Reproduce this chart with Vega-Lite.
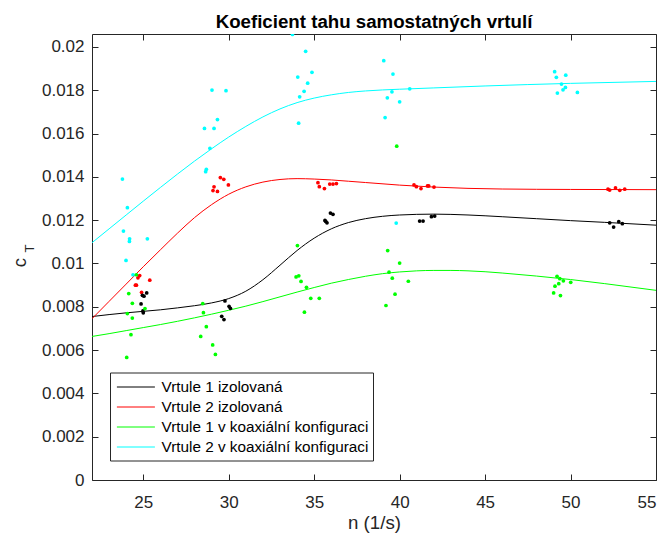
{
  "$schema": "https://vega.github.io/schema/vega-lite/v6.json",
  "width": 564,
  "height": 446,
  "autosize": {"type": "none"},
  "padding": {"left": 92, "top": 34, "right": 10, "bottom": 56},
  "background": "white",
  "config": {
    "view": {"stroke": null},
    "font": "Liberation Sans",
    "axis": {
      "domainColor": "#262626",
      "tickColor": "#262626",
      "labelColor": "#262626",
      "titleColor": "#262626",
      "labelFont": "Liberation Sans",
      "titleFont": "Liberation Sans",
      "labelFontSize": 17,
      "titleFontSize": 18.7,
      "titleFontWeight": "normal",
      "grid": false,
      "tickSize": -6,
      "domainWidth": 1,
      "tickWidth": 1
    }
  },
  "title": {
    "text": "Koeficient tahu samostatných vrtulí",
    "font": "Liberation Sans",
    "fontSize": 18.7,
    "fontWeight": "bold",
    "color": "black",
    "anchor": "middle",
    "offset": 2
  },
  "datasets": {
    "fits": [
      {"serie": "Vrtule 1 izolovaná", "n": 22, "cT": 0.00755},
      {"serie": "Vrtule 1 izolovaná", "n": 23, "cT": 0.00764},
      {"serie": "Vrtule 1 izolovaná", "n": 24, "cT": 0.00772},
      {"serie": "Vrtule 1 izolovaná", "n": 25, "cT": 0.00779},
      {"serie": "Vrtule 1 izolovaná", "n": 26, "cT": 0.00786},
      {"serie": "Vrtule 1 izolovaná", "n": 27, "cT": 0.00795},
      {"serie": "Vrtule 1 izolovaná", "n": 28, "cT": 0.00805},
      {"serie": "Vrtule 1 izolovaná", "n": 29, "cT": 0.00818},
      {"serie": "Vrtule 1 izolovaná", "n": 30, "cT": 0.00838},
      {"serie": "Vrtule 1 izolovaná", "n": 31, "cT": 0.00872},
      {"serie": "Vrtule 1 izolovaná", "n": 32, "cT": 0.00925},
      {"serie": "Vrtule 1 izolovaná", "n": 33, "cT": 0.00992},
      {"serie": "Vrtule 1 izolovaná", "n": 34, "cT": 0.0106},
      {"serie": "Vrtule 1 izolovaná", "n": 35, "cT": 0.01117},
      {"serie": "Vrtule 1 izolovaná", "n": 36, "cT": 0.0116},
      {"serie": "Vrtule 1 izolovaná", "n": 37, "cT": 0.01189},
      {"serie": "Vrtule 1 izolovaná", "n": 38, "cT": 0.01207},
      {"serie": "Vrtule 1 izolovaná", "n": 39, "cT": 0.01218},
      {"serie": "Vrtule 1 izolovaná", "n": 40, "cT": 0.01224},
      {"serie": "Vrtule 1 izolovaná", "n": 42, "cT": 0.01228},
      {"serie": "Vrtule 1 izolovaná", "n": 44, "cT": 0.01224},
      {"serie": "Vrtule 1 izolovaná", "n": 46, "cT": 0.01216},
      {"serie": "Vrtule 1 izolovaná", "n": 48, "cT": 0.01207},
      {"serie": "Vrtule 1 izolovaná", "n": 50, "cT": 0.01198},
      {"serie": "Vrtule 1 izolovaná", "n": 52, "cT": 0.0119},
      {"serie": "Vrtule 1 izolovaná", "n": 55, "cT": 0.01177},

      {"serie": "Vrtule 2 izolovaná", "n": 22, "cT": 0.00745},
      {"serie": "Vrtule 2 izolovaná", "n": 23, "cT": 0.00825},
      {"serie": "Vrtule 2 izolovaná", "n": 24, "cT": 0.00905},
      {"serie": "Vrtule 2 izolovaná", "n": 25, "cT": 0.00985},
      {"serie": "Vrtule 2 izolovaná", "n": 26, "cT": 0.01063},
      {"serie": "Vrtule 2 izolovaná", "n": 27, "cT": 0.0114},
      {"serie": "Vrtule 2 izolovaná", "n": 28, "cT": 0.01212},
      {"serie": "Vrtule 2 izolovaná", "n": 29, "cT": 0.01272},
      {"serie": "Vrtule 2 izolovaná", "n": 30, "cT": 0.0132},
      {"serie": "Vrtule 2 izolovaná", "n": 31, "cT": 0.01354},
      {"serie": "Vrtule 2 izolovaná", "n": 32, "cT": 0.01376},
      {"serie": "Vrtule 2 izolovaná", "n": 33, "cT": 0.01388},
      {"serie": "Vrtule 2 izolovaná", "n": 34, "cT": 0.01392},
      {"serie": "Vrtule 2 izolovaná", "n": 35, "cT": 0.0139},
      {"serie": "Vrtule 2 izolovaná", "n": 36, "cT": 0.01386},
      {"serie": "Vrtule 2 izolovaná", "n": 37, "cT": 0.0138},
      {"serie": "Vrtule 2 izolovaná", "n": 38, "cT": 0.01374},
      {"serie": "Vrtule 2 izolovaná", "n": 40, "cT": 0.01362},
      {"serie": "Vrtule 2 izolovaná", "n": 42, "cT": 0.01353},
      {"serie": "Vrtule 2 izolovaná", "n": 44, "cT": 0.01347},
      {"serie": "Vrtule 2 izolovaná", "n": 46, "cT": 0.01344},
      {"serie": "Vrtule 2 izolovaná", "n": 50, "cT": 0.01342},
      {"serie": "Vrtule 2 izolovaná", "n": 55, "cT": 0.01341},

      {"serie": "Vrtule 1 v koaxiální konfiguraci", "n": 22, "cT": 0.00663},
      {"serie": "Vrtule 1 v koaxiální konfiguraci", "n": 23, "cT": 0.00676},
      {"serie": "Vrtule 1 v koaxiální konfiguraci", "n": 24, "cT": 0.0069},
      {"serie": "Vrtule 1 v koaxiální konfiguraci", "n": 25, "cT": 0.00704},
      {"serie": "Vrtule 1 v koaxiální konfiguraci", "n": 26, "cT": 0.00718},
      {"serie": "Vrtule 1 v koaxiální konfiguraci", "n": 27, "cT": 0.00733},
      {"serie": "Vrtule 1 v koaxiální konfiguraci", "n": 28, "cT": 0.00749},
      {"serie": "Vrtule 1 v koaxiální konfiguraci", "n": 29, "cT": 0.00766},
      {"serie": "Vrtule 1 v koaxiální konfiguraci", "n": 30, "cT": 0.00784},
      {"serie": "Vrtule 1 v koaxiální konfiguraci", "n": 31, "cT": 0.00803},
      {"serie": "Vrtule 1 v koaxiální konfiguraci", "n": 32, "cT": 0.00824},
      {"serie": "Vrtule 1 v koaxiální konfiguraci", "n": 33, "cT": 0.00846},
      {"serie": "Vrtule 1 v koaxiální konfiguraci", "n": 34, "cT": 0.00868},
      {"serie": "Vrtule 1 v koaxiální konfiguraci", "n": 35, "cT": 0.00889},
      {"serie": "Vrtule 1 v koaxiální konfiguraci", "n": 36, "cT": 0.00909},
      {"serie": "Vrtule 1 v koaxiální konfiguraci", "n": 37, "cT": 0.00926},
      {"serie": "Vrtule 1 v koaxiální konfiguraci", "n": 38, "cT": 0.00941},
      {"serie": "Vrtule 1 v koaxiální konfiguraci", "n": 39, "cT": 0.00953},
      {"serie": "Vrtule 1 v koaxiální konfiguraci", "n": 40, "cT": 0.00961},
      {"serie": "Vrtule 1 v koaxiální konfiguraci", "n": 41, "cT": 0.00966},
      {"serie": "Vrtule 1 v koaxiální konfiguraci", "n": 42, "cT": 0.00968},
      {"serie": "Vrtule 1 v koaxiální konfiguraci", "n": 43, "cT": 0.00968},
      {"serie": "Vrtule 1 v koaxiální konfiguraci", "n": 44, "cT": 0.00966},
      {"serie": "Vrtule 1 v koaxiální konfiguraci", "n": 45, "cT": 0.00962},
      {"serie": "Vrtule 1 v koaxiální konfiguraci", "n": 46, "cT": 0.00956},
      {"serie": "Vrtule 1 v koaxiální konfiguraci", "n": 48, "cT": 0.00942},
      {"serie": "Vrtule 1 v koaxiální konfiguraci", "n": 50, "cT": 0.00926},
      {"serie": "Vrtule 1 v koaxiální konfiguraci", "n": 52, "cT": 0.00907},
      {"serie": "Vrtule 1 v koaxiální konfiguraci", "n": 55, "cT": 0.00876},

      {"serie": "Vrtule 2 v koaxiální konfiguraci", "n": 22, "cT": 0.01096},
      {"serie": "Vrtule 2 v koaxiální konfiguraci", "n": 23, "cT": 0.0116},
      {"serie": "Vrtule 2 v koaxiální konfiguraci", "n": 24, "cT": 0.01224},
      {"serie": "Vrtule 2 v koaxiální konfiguraci", "n": 25, "cT": 0.01288},
      {"serie": "Vrtule 2 v koaxiální konfiguraci", "n": 26, "cT": 0.01351},
      {"serie": "Vrtule 2 v koaxiální konfiguraci", "n": 27, "cT": 0.01413},
      {"serie": "Vrtule 2 v koaxiální konfiguraci", "n": 28, "cT": 0.01473},
      {"serie": "Vrtule 2 v koaxiální konfiguraci", "n": 29, "cT": 0.0153},
      {"serie": "Vrtule 2 v koaxiální konfiguraci", "n": 30, "cT": 0.01584},
      {"serie": "Vrtule 2 v koaxiální konfiguraci", "n": 31, "cT": 0.01633},
      {"serie": "Vrtule 2 v koaxiální konfiguraci", "n": 32, "cT": 0.01677},
      {"serie": "Vrtule 2 v koaxiální konfiguraci", "n": 33, "cT": 0.01714},
      {"serie": "Vrtule 2 v koaxiální konfiguraci", "n": 34, "cT": 0.01743},
      {"serie": "Vrtule 2 v koaxiální konfiguraci", "n": 35, "cT": 0.01764},
      {"serie": "Vrtule 2 v koaxiální konfiguraci", "n": 36, "cT": 0.01779},
      {"serie": "Vrtule 2 v koaxiální konfiguraci", "n": 37, "cT": 0.0179},
      {"serie": "Vrtule 2 v koaxiální konfiguraci", "n": 38, "cT": 0.01797},
      {"serie": "Vrtule 2 v koaxiální konfiguraci", "n": 40, "cT": 0.01805},
      {"serie": "Vrtule 2 v koaxiální konfiguraci", "n": 42, "cT": 0.01811},
      {"serie": "Vrtule 2 v koaxiální konfiguraci", "n": 45, "cT": 0.0182},
      {"serie": "Vrtule 2 v koaxiální konfiguraci", "n": 50, "cT": 0.01832},
      {"serie": "Vrtule 2 v koaxiální konfiguraci", "n": 55, "cT": 0.01841}
    ],
    "measured": [
      {"serie": "Vrtule 2 v koaxiální konfiguraci", "n": 23.78, "cT": 0.0139},
      {"serie": "Vrtule 2 v koaxiální konfiguraci", "n": 24.07, "cT": 0.01258},
      {"serie": "Vrtule 2 v koaxiální konfiguraci", "n": 23.84, "cT": 0.0115},
      {"serie": "Vrtule 2 v koaxiální konfiguraci", "n": 24.2, "cT": 0.01114},
      {"serie": "Vrtule 2 v koaxiální konfiguraci", "n": 24.19, "cT": 0.01102},
      {"serie": "Vrtule 2 v koaxiální konfiguraci", "n": 25.24, "cT": 0.01114},
      {"serie": "Vrtule 2 v koaxiální konfiguraci", "n": 23.99, "cT": 0.01014},
      {"serie": "Vrtule 2 v koaxiální konfiguraci", "n": 24.4, "cT": 0.00948},
      {"serie": "Vrtule 2 v koaxiální konfiguraci", "n": 29.02, "cT": 0.01801},
      {"serie": "Vrtule 2 v koaxiální konfiguraci", "n": 29.84, "cT": 0.01798},
      {"serie": "Vrtule 2 v koaxiální konfiguraci", "n": 29.34, "cT": 0.01665},
      {"serie": "Vrtule 2 v koaxiální konfiguraci", "n": 28.58, "cT": 0.01624},
      {"serie": "Vrtule 2 v koaxiální konfiguraci", "n": 29.14, "cT": 0.01624},
      {"serie": "Vrtule 2 v koaxiální konfiguraci", "n": 28.9, "cT": 0.01532},
      {"serie": "Vrtule 2 v koaxiální konfiguraci", "n": 28.69, "cT": 0.01435},
      {"serie": "Vrtule 2 v koaxiální konfiguraci", "n": 28.65, "cT": 0.01424},
      {"serie": "Vrtule 2 v koaxiální konfiguraci", "n": 33.73, "cT": 0.02058},
      {"serie": "Vrtule 2 v koaxiální konfiguraci", "n": 34.5, "cT": 0.0198},
      {"serie": "Vrtule 2 v koaxiální konfiguraci", "n": 34.87, "cT": 0.01883},
      {"serie": "Vrtule 2 v koaxiální konfiguraci", "n": 34.04, "cT": 0.01861},
      {"serie": "Vrtule 2 v koaxiální konfiguraci", "n": 34.62, "cT": 0.01833},
      {"serie": "Vrtule 2 v koaxiální konfiguraci", "n": 34.41, "cT": 0.01795},
      {"serie": "Vrtule 2 v koaxiální konfiguraci", "n": 34.15, "cT": 0.0177},
      {"serie": "Vrtule 2 v koaxiální konfiguraci", "n": 34.09, "cT": 0.01648},
      {"serie": "Vrtule 2 v koaxiální konfiguraci", "n": 39.07, "cT": 0.01937},
      {"serie": "Vrtule 2 v koaxiální konfiguraci", "n": 39.61, "cT": 0.01875},
      {"serie": "Vrtule 2 v koaxiální konfiguraci", "n": 40.59, "cT": 0.01807},
      {"serie": "Vrtule 2 v koaxiální konfiguraci", "n": 39.55, "cT": 0.01793},
      {"serie": "Vrtule 2 v koaxiální konfiguraci", "n": 39.28, "cT": 0.01765},
      {"serie": "Vrtule 2 v koaxiální konfiguraci", "n": 40.0, "cT": 0.01747},
      {"serie": "Vrtule 2 v koaxiální konfiguraci", "n": 39.15, "cT": 0.01674},
      {"serie": "Vrtule 2 v koaxiální konfiguraci", "n": 39.8, "cT": 0.01187},
      {"serie": "Vrtule 2 v koaxiální konfiguraci", "n": 49.07, "cT": 0.01886},
      {"serie": "Vrtule 2 v koaxiální konfiguraci", "n": 49.17, "cT": 0.0186},
      {"serie": "Vrtule 2 v koaxiální konfiguraci", "n": 49.72, "cT": 0.0187},
      {"serie": "Vrtule 2 v koaxiální konfiguraci", "n": 49.47, "cT": 0.01829},
      {"serie": "Vrtule 2 v koaxiální konfiguraci", "n": 49.7, "cT": 0.01813},
      {"serie": "Vrtule 2 v koaxiální konfiguraci", "n": 49.56, "cT": 0.01802},
      {"serie": "Vrtule 2 v koaxiální konfiguraci", "n": 49.23, "cT": 0.01787},
      {"serie": "Vrtule 2 v koaxiální konfiguraci", "n": 50.4, "cT": 0.0179},

      {"serie": "Vrtule 2 izolovaná", "n": 24.79, "cT": 0.00944},
      {"serie": "Vrtule 2 izolovaná", "n": 24.69, "cT": 0.00934},
      {"serie": "Vrtule 2 izolovaná", "n": 25.38, "cT": 0.00923},
      {"serie": "Vrtule 2 izolovaná", "n": 24.54, "cT": 0.009},
      {"serie": "Vrtule 2 izolovaná", "n": 24.6, "cT": 0.009},
      {"serie": "Vrtule 2 izolovaná", "n": 24.9, "cT": 0.00867},
      {"serie": "Vrtule 2 izolovaná", "n": 29.51, "cT": 0.01397},
      {"serie": "Vrtule 2 izolovaná", "n": 29.71, "cT": 0.01389},
      {"serie": "Vrtule 2 izolovaná", "n": 29.98, "cT": 0.01363},
      {"serie": "Vrtule 2 izolovaná", "n": 29.14, "cT": 0.01354},
      {"serie": "Vrtule 2 izolovaná", "n": 29.08, "cT": 0.01337},
      {"serie": "Vrtule 2 izolovaná", "n": 29.34, "cT": 0.01333},
      {"serie": "Vrtule 2 izolovaná", "n": 35.22, "cT": 0.01373},
      {"serie": "Vrtule 2 izolovaná", "n": 35.3, "cT": 0.01355},
      {"serie": "Vrtule 2 izolovaná", "n": 35.6, "cT": 0.01346},
      {"serie": "Vrtule 2 izolovaná", "n": 35.91, "cT": 0.01367},
      {"serie": "Vrtule 2 izolovaná", "n": 36.1, "cT": 0.01367},
      {"serie": "Vrtule 2 izolovaná", "n": 36.3, "cT": 0.01369},
      {"serie": "Vrtule 2 izolovaná", "n": 40.84, "cT": 0.01363},
      {"serie": "Vrtule 2 izolovaná", "n": 40.98, "cT": 0.01355},
      {"serie": "Vrtule 2 izolovaná", "n": 41.25, "cT": 0.01346},
      {"serie": "Vrtule 2 izolovaná", "n": 41.63, "cT": 0.01358},
      {"serie": "Vrtule 2 izolovaná", "n": 41.7, "cT": 0.01358},
      {"serie": "Vrtule 2 izolovaná", "n": 42.01, "cT": 0.01353},
      {"serie": "Vrtule 2 izolovaná", "n": 52.19, "cT": 0.01343},
      {"serie": "Vrtule 2 izolovaná", "n": 52.29, "cT": 0.01339},
      {"serie": "Vrtule 2 izolovaná", "n": 52.63, "cT": 0.01349},
      {"serie": "Vrtule 2 izolovaná", "n": 52.88, "cT": 0.01338},
      {"serie": "Vrtule 2 izolovaná", "n": 53.17, "cT": 0.01343},

      {"serie": "Vrtule 1 izolovaná", "n": 24.95, "cT": 0.00853},
      {"serie": "Vrtule 1 izolovaná", "n": 25.04, "cT": 0.00849},
      {"serie": "Vrtule 1 izolovaná", "n": 25.2, "cT": 0.00864},
      {"serie": "Vrtule 1 izolovaná", "n": 24.87, "cT": 0.00813},
      {"serie": "Vrtule 1 izolovaná", "n": 24.98, "cT": 0.00781},
      {"serie": "Vrtule 1 izolovaná", "n": 25.0, "cT": 0.00772},
      {"serie": "Vrtule 1 izolovaná", "n": 29.78, "cT": 0.00827},
      {"serie": "Vrtule 1 izolovaná", "n": 30.02, "cT": 0.00802},
      {"serie": "Vrtule 1 izolovaná", "n": 30.1, "cT": 0.00793},
      {"serie": "Vrtule 1 izolovaná", "n": 29.59, "cT": 0.00756},
      {"serie": "Vrtule 1 izolovaná", "n": 29.72, "cT": 0.00741},
      {"serie": "Vrtule 1 izolovaná", "n": 35.95, "cT": 0.01233},
      {"serie": "Vrtule 1 izolovaná", "n": 36.1, "cT": 0.01227},
      {"serie": "Vrtule 1 izolovaná", "n": 35.63, "cT": 0.01199},
      {"serie": "Vrtule 1 izolovaná", "n": 35.75, "cT": 0.01188},
      {"serie": "Vrtule 1 izolovaná", "n": 35.68, "cT": 0.01194},
      {"serie": "Vrtule 1 izolovaná", "n": 41.17, "cT": 0.01196},
      {"serie": "Vrtule 1 izolovaná", "n": 41.37, "cT": 0.01196},
      {"serie": "Vrtule 1 izolovaná", "n": 41.86, "cT": 0.01216},
      {"serie": "Vrtule 1 izolovaná", "n": 42.05, "cT": 0.01219},
      {"serie": "Vrtule 1 izolovaná", "n": 52.29, "cT": 0.01188},
      {"serie": "Vrtule 1 izolovaná", "n": 52.52, "cT": 0.01168},
      {"serie": "Vrtule 1 izolovaná", "n": 52.82, "cT": 0.01193},
      {"serie": "Vrtule 1 izolovaná", "n": 53.03, "cT": 0.01184},

      {"serie": "Vrtule 1 v koaxiální konfiguraci", "n": 24.6, "cT": 0.00948},
      {"serie": "Vrtule 1 v koaxiální konfiguraci", "n": 24.15, "cT": 0.00861},
      {"serie": "Vrtule 1 v koaxiální konfiguraci", "n": 24.36, "cT": 0.00816},
      {"serie": "Vrtule 1 v koaxiální konfiguraci", "n": 25.1, "cT": 0.00792},
      {"serie": "Vrtule 1 v koaxiální konfiguraci", "n": 24.07, "cT": 0.00769},
      {"serie": "Vrtule 1 v koaxiální konfiguraci", "n": 24.36, "cT": 0.00748},
      {"serie": "Vrtule 1 v koaxiální konfiguraci", "n": 24.28, "cT": 0.00671},
      {"serie": "Vrtule 1 v koaxiální konfiguraci", "n": 24.03, "cT": 0.00566},
      {"serie": "Vrtule 1 v koaxiální konfiguraci", "n": 28.48, "cT": 0.00815},
      {"serie": "Vrtule 1 v koaxiální konfiguraci", "n": 28.52, "cT": 0.00773},
      {"serie": "Vrtule 1 v koaxiální konfiguraci", "n": 28.69, "cT": 0.00708},
      {"serie": "Vrtule 1 v koaxiální konfiguraci", "n": 28.36, "cT": 0.00663},
      {"serie": "Vrtule 1 v koaxiální konfiguraci", "n": 29.06, "cT": 0.00624},
      {"serie": "Vrtule 1 v koaxiální konfiguraci", "n": 29.22, "cT": 0.0058},
      {"serie": "Vrtule 1 v koaxiální konfiguraci", "n": 34.02, "cT": 0.01083},
      {"serie": "Vrtule 1 v koaxiální konfiguraci", "n": 33.94, "cT": 0.00938},
      {"serie": "Vrtule 1 v koaxiální konfiguraci", "n": 34.1, "cT": 0.00943},
      {"serie": "Vrtule 1 v koaxiální konfiguraci", "n": 34.23, "cT": 0.00917},
      {"serie": "Vrtule 1 v koaxiální konfiguraci", "n": 34.55, "cT": 0.0089},
      {"serie": "Vrtule 1 v koaxiální konfiguraci", "n": 34.8, "cT": 0.00839},
      {"serie": "Vrtule 1 v koaxiální konfiguraci", "n": 35.3, "cT": 0.00839},
      {"serie": "Vrtule 1 v koaxiální konfiguraci", "n": 34.43, "cT": 0.00775},
      {"serie": "Vrtule 1 v koaxiální konfiguraci", "n": 39.83, "cT": 0.01542},
      {"serie": "Vrtule 1 v koaxiální konfiguraci", "n": 39.3, "cT": 0.0106},
      {"serie": "Vrtule 1 v koaxiální konfiguraci", "n": 40.0, "cT": 0.01002},
      {"serie": "Vrtule 1 v koaxiální konfiguraci", "n": 39.38, "cT": 0.0096},
      {"serie": "Vrtule 1 v koaxiální konfiguraci", "n": 39.57, "cT": 0.00932},
      {"serie": "Vrtule 1 v koaxiální konfiguraci", "n": 40.51, "cT": 0.00918},
      {"serie": "Vrtule 1 v koaxiální konfiguraci", "n": 39.73, "cT": 0.00858},
      {"serie": "Vrtule 1 v koaxiální konfiguraci", "n": 39.2, "cT": 0.00806},
      {"serie": "Vrtule 1 v koaxiální konfiguraci", "n": 49.21, "cT": 0.00941},
      {"serie": "Vrtule 1 v koaxiální konfiguraci", "n": 49.37, "cT": 0.0093},
      {"serie": "Vrtule 1 v koaxiální konfiguraci", "n": 49.58, "cT": 0.0092},
      {"serie": "Vrtule 1 v koaxiální konfiguraci", "n": 50.01, "cT": 0.00913},
      {"serie": "Vrtule 1 v koaxiální konfiguraci", "n": 49.31, "cT": 0.00907},
      {"serie": "Vrtule 1 v koaxiální konfiguraci", "n": 49.09, "cT": 0.00895},
      {"serie": "Vrtule 1 v koaxiální konfiguraci", "n": 49.01, "cT": 0.00864},
      {"serie": "Vrtule 1 v koaxiální konfiguraci", "n": 49.41, "cT": 0.00852}
    ]
  },
  "layer": [
    {
      "data": {"name": "fits"},
      "mark": {"type": "line", "strokeWidth": 1, "interpolate": "monotone", "clip": true},
      "encoding": {
        "x": {
          "field": "n", "type": "quantitative",
          "scale": {"domain": [22, 55], "nice": false, "zero": false},
          "axis": {
            "orient": "bottom",
            "values": [25, 30, 35, 40, 45, 50, 55],
            "title": "n (1/s)",
            "labelPadding": 20,
            "titleBaseline": "alphabetic",
            "titleY": 48
          }
        },
        "y": {
          "field": "cT", "type": "quantitative",
          "scale": {"domain": [0, 0.0206], "nice": false},
          "axis": {
            "orient": "left",
            "values": [0, 0.002, 0.004, 0.006, 0.008, 0.01, 0.012, 0.014, 0.016, 0.018, 0.02],
            "format": ".3~f",
            "labelPadding": 14,
            "title": "c",
            "titleFontSize": 18.7,
            "titleAngle": -90,
            "titleAlign": "center",
            "titleBaseline": "alphabetic",
            "titleX": -67,
            "titleY": 228
          }
        },
        "color": {
          "field": "serie", "type": "nominal",
          "scale": {
            "domain": ["Vrtule 1 izolovaná", "Vrtule 2 izolovaná", "Vrtule 1 v koaxiální konfiguraci", "Vrtule 2 v koaxiální konfiguraci"],
            "range": ["#000000", "#ff0000", "#00ff00", "#00ffff"]
          },
          "legend": {
            "title": null,
            "orient": "none",
            "legendX": 18,
            "legendY": 338.5,
            "symbolType": "M-0.8,0L3.2,0",
            "symbolSize": 361,
            "symbolStrokeWidth": 1,
            "labelOffset": 27,
            "labelFont": "Liberation Sans",
            "labelFontSize": 15.3,
            "labelColor": "black",
            "labelLimit": 400,
            "fillColor": "white",
            "strokeColor": "#262626",
            "padding": 4.5,
            "rowPadding": 1
          }
        }
      }
    },
    {
      "data": {"name": "measured"},
      "mark": {"type": "circle", "size": 14, "opacity": 1, "clip": true},
      "encoding": {
        "x": {
          "field": "n", "type": "quantitative",
          "axis": {"orient": "top", "values": [25, 30, 35, 40, 45, 50, 55], "labels": false, "title": null}
        },
        "y": {
          "field": "cT", "type": "quantitative",
          "axis": {
            "orient": "right",
            "values": [0, 0.002, 0.004, 0.006, 0.008, 0.01, 0.012, 0.014, 0.016, 0.018, 0.02],
            "labels": false,
            "title": "T",
            "titleFontSize": 13,
            "titleAngle": -90,
            "titleAlign": "center",
            "titleBaseline": "alphabetic",
            "titleX": -623,
            "titleY": 214
          }
        },
        "color": {"field": "serie", "type": "nominal"}
      }
    }
  ]
}
